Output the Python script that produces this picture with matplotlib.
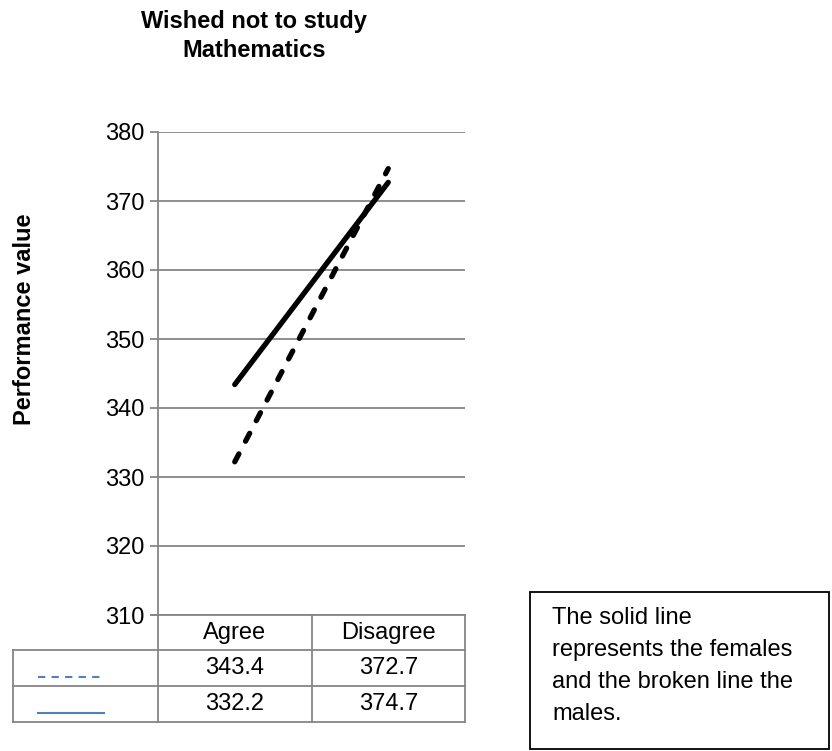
import matplotlib
matplotlib.use('Agg')
import matplotlib.pyplot as plt
from matplotlib.lines import Line2D
from matplotlib.patches import Rectangle

plt.rcParams['font.family'] = ['Liberation Sans', 'DejaVu Sans']

categories = ['Agree', 'Disagree']
solid_values = [343.4, 372.7]
broken_values = [332.2, 374.7]
table_rows = [solid_values, broken_values]
row_keys = ['--', '-']
y_ticks = [310, 320, 330, 340, 350, 360, 370, 380]
title = 'Wished not to study\nMathematics'
y_label = 'Performance value'
note = 'The solid line\nrepresents the females\nand the broken line the\nmales.'

W, H = 832, 751
fig = plt.figure(figsize=(W / 100, H / 100), dpi=100)

def fx(px):
    return px / W

def fy(py):
    return 1 - py / H

grid_col = '#868686'
fs = 17
ax_l, ax_r, ax_t, ax_b = 158, 465, 132, 615
ax = fig.add_axes([fx(ax_l), fy(ax_b), fx(ax_r - ax_l), fy(ax_t) - fy(ax_b)])

x = list(range(len(categories)))
ax.plot(x, solid_values, color='black', lw=3.8, solid_capstyle='round')
ax.plot(x, broken_values, color='black', lw=3.8, dashes=(1.7, 2.7), dash_capstyle='round')

ax.set_xlim(-0.5, len(categories) - 0.5)
ax.set_ylim(310, 380)
ax.set_yticks(y_ticks)
ax.set_yticklabels([str(v) for v in y_ticks], fontsize=fs)
ax.set_xticks([])
ax.grid(axis='y', color=grid_col, lw=1.3)
ax.set_axisbelow(True)
for s in ['top', 'right', 'bottom']:
    ax.spines[s].set_visible(False)
ax.spines['left'].set_color(grid_col)
ax.spines['left'].set_linewidth(1.3)
ax.tick_params(axis='y', length=6, width=1.3, color=grid_col, pad=3.5)

fig.text(fx(254), fy(36), title, ha='center', va='center', fontsize=fs,
         fontweight='bold', linespacing=1.33)
fig.text(fx(25), fy(319), y_label, ha='center', va='center', rotation=90,
         fontsize=fs, fontweight='bold')

# data table under the plot
col_x = [158, 312, 465]
row_y = [615, 650, 686, 722]
key_left = 13

def hline(y, x0, x1):
    fig.add_artist(Line2D([fx(x0), fx(x1)], [fy(y), fy(y)], color=grid_col, lw=1.3))

def vline(x0, y0, y1):
    fig.add_artist(Line2D([fx(x0), fx(x0)], [fy(y0), fy(y1)], color=grid_col, lw=1.3))

hline(row_y[0], 152, col_x[-1])
for y in row_y[1:]:
    hline(y, key_left, col_x[-1])
for cx in col_x:
    vline(cx, row_y[0], row_y[-1])
vline(key_left, row_y[1], row_y[-1])

for j, cat in enumerate(categories):
    cx = (col_x[j] + col_x[j + 1]) / 2
    fig.text(fx(cx), fy((row_y[0] + row_y[1]) / 2 + 1), cat, ha='center', va='center', fontsize=fs)
    for i, row in enumerate(table_rows):
        cy = (row_y[i + 1] + row_y[i + 2]) / 2
        fig.text(fx(cx), fy(cy), f'{row[j]:.1f}', ha='center', va='center', fontsize=fs)

for i, ls in enumerate(row_keys):
    cy = (row_y[i + 1] + row_y[i + 2]) / 2 + 9
    fig.add_artist(Line2D([fx(38), fx(104)], [fy(cy), fy(cy)], color='#4F81BD', lw=1.5,
                          linestyle=ls, dashes=(3.5, 3) if ls == '--' else (None, None)))

# note box
fig.add_artist(Rectangle((fx(530), fy(749)), fx(829 - 530), fy(592) - fy(749),
                         fill=False, edgecolor='black', lw=1.3))
fig.text(fx(552), fy(607), note, ha='left', va='top', fontsize=fs, linespacing=1.59)

plt.savefig('out.png', dpi=100, facecolor='white')
